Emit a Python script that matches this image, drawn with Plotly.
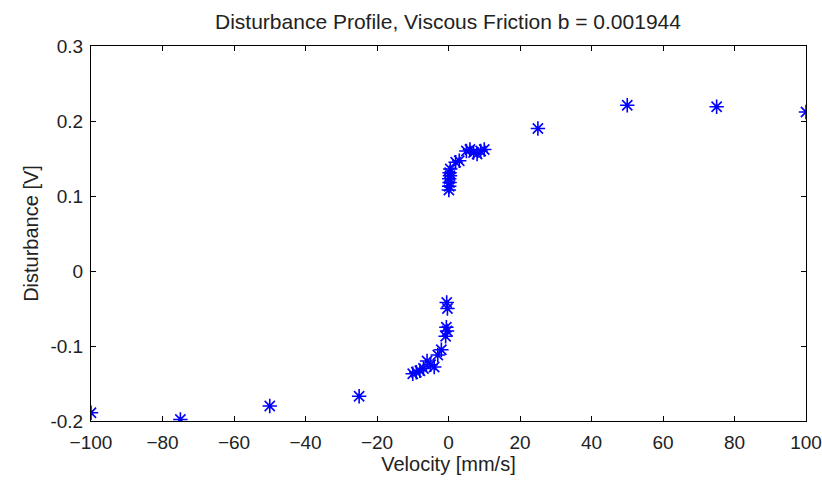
import plotly.graph_objects as go

vel = [-100, -75, -50, -25,
       -10, -9, -8, -7, -6, -5, -4, -3, -2, -0.8, -0.4, -0.6, -0.3, -0.5,
       0.1, 0.2, 0.3, 0.2, 0.4, 0.3, 0.5, 2, 3, 5, 6, 7, 8, 9, 10,
       25, 50, 75, 100]
dist = [-0.189, -0.198, -0.180, -0.167,
        -0.137, -0.135, -0.133, -0.130, -0.120, -0.125, -0.128, -0.112, -0.105, -0.087, -0.080, -0.075, -0.050, -0.042,
        0.108, 0.113, 0.118, 0.123, 0.127, 0.131, 0.136, 0.145, 0.147, 0.160, 0.162, 0.158, 0.156, 0.160, 0.162,
        0.190, 0.221, 0.219, 0.212]

xticks = [-100, -80, -60, -40, -20, 0, 20, 40, 60, 80, 100]
yticks = [-0.2, -0.1, 0, 0.1, 0.2, 0.3]
yticklabels = ["-0.2", "-0.1", "0", "0.1", "0.2", "0.3"]

fig = go.Figure(go.Scatter(
    x=vel, y=dist, mode="markers",
    marker=dict(symbol="asterisk-open", size=12, color="#0000ff",
                line=dict(color="#0000ff", width=1.6)),
))

axis_common = dict(showgrid=False, zeroline=False, showline=True, linecolor="black",
                   linewidth=1, mirror="ticks", ticks="inside", ticklen=5,
                   tickcolor="black", automargin=False,
                   tickfont=dict(size=19, color="#222222"))

fig.update_layout(
    width=822, height=481,
    margin=dict(l=91, r=16, t=46, b=60, autoexpand=False),
    paper_bgcolor="white", plot_bgcolor="white",
    font=dict(family="Liberation Sans, Arial, sans-serif", color="#222222"),
    showlegend=False,
    title=dict(text="Disturbance Profile, Viscous Friction b = 0.001944",
               x=0.545, xanchor="center", y=0.954, yanchor="middle",
               font=dict(size=21, color="#222222")),
    xaxis=dict(range=[-100, 100], tickvals=xticks, ticklabelstandoff=4,
               title=dict(text="Velocity [mm/s]", font=dict(size=20), standoff=2),
               **axis_common),
    yaxis=dict(range=[-0.2, 0.3], tickvals=yticks, ticktext=yticklabels, ticklabelstandoff=3,
               title=dict(text="Disturbance [V]", font=dict(size=20), standoff=6),
               **axis_common),
)

fig.write_html("out.html")
